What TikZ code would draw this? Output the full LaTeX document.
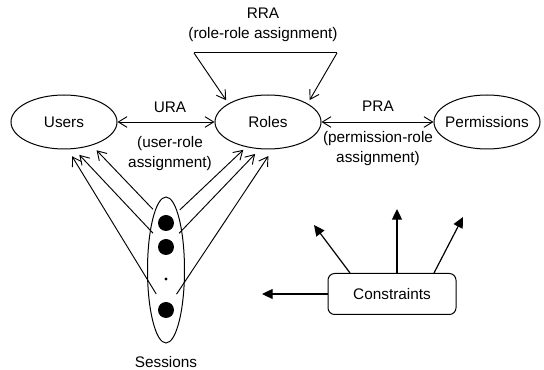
\documentclass[tikz,border=0pt]{standalone}
\usepackage{fontspec}
\setmainfont{Liberation Sans}
\usetikzlibrary{shapes.geometric,arrows.meta}

\begin{document}
\begin{tikzpicture}[x=0.75pt,y=0.75pt,yscale=-1,xscale=1,
  every node/.style={font=\fontsize{11.5}{15}\selectfont},
  entity/.style={draw,ellipse,line width=0.75pt,inner sep=0pt,inner xsep=-14pt,minimum width=79.5pt,minimum height=40.5pt},
  sdot/.style={circle,fill=black,inner sep=0pt,minimum size=12pt},
  barb/.style={line width=0.7pt,-{Straight Barb[length=6.5pt,width=8pt]}},
  tri/.style={line width=0.9pt,-{Triangle[length=8pt,width=7.5pt]}}
]
\useasboundingbox (0,0) rectangle (544,370);

\node[entity] (users) at (64,122) {Users};
\node[entity] (roles) at (268,122) {Roles};
\node[entity] (perms) at (487,122) {Permissions};

\node[draw,ellipse,line width=0.75pt,inner sep=0pt,minimum width=27.75pt,minimum height=109.5pt] (sessions) at (166,270) {};
\node[sdot] (s1) at (166,223) {};
\node[sdot] (s2) at (166,247) {};
\node[circle,fill=black,inner sep=0pt,minimum size=2.5pt] (s3) at (166,279) {};
\node[sdot] (s4) at (166,310) {};
\node (sesslabel) at (166,362) {Sessions};

\node[draw,rounded corners=5pt,line width=0.75pt,minimum width=96pt,minimum height=30.75pt] (con) at (392,294) {Constraints};

% assignments
\draw[barb,{Straight Barb[length=6.5pt,width=8pt]}-{Straight Barb[length=6.5pt,width=8pt]}] (users) -- (roles);
\draw[barb,{Straight Barb[length=6.5pt,width=8pt]}-{Straight Barb[length=6.5pt,width=8pt]}] (roles) -- (perms);
\node (ura) at (170,107) {URA};
\node[align=center] (uratext) at (170,154) {(user-role\\assignment)};
\node (pra) at (378,106) {PRA};
\node[align=center] (pratext) at (378,149) {(permission-role\\assignment)};

% role hierarchy
\node[align=center] (rra) at (263,25) {RRA\\(role-role assignment)};
\coordinate (rraleft) at (194,53);
\coordinate (rraright) at (337,53);
\draw[line width=0.75pt] (rraleft) -- (rraright);
\draw[barb,shorten >=3pt] (rraleft) -- (roles.155);
\draw[barb,shorten >=3pt] (rraright) -- (roles.25);

% sessions to users and roles
\draw[barb,shorten <=8pt,shorten >=5pt] (s1) -- (users.-40);
\draw[barb,shorten <=8pt,shorten >=6pt] (s2) -- (users.-70);
\draw[barb,shorten <=8pt,shorten >=6pt] (s4) -- (users.-82);
\draw[barb,shorten <=8pt,shorten >=3pt] (s1) -- (roles.-131);
\draw[barb,shorten <=8pt,shorten >=5pt] (s2) -- (roles.-107);
\draw[barb,shorten <=8pt,shorten >=6pt] (s4) -- (roles.-80);

% constraints
\coordinate (cleft) at (262,294);
\coordinate (cup1) at (314,225);
\coordinate (cup2) at (397,209);
\coordinate (cup3) at (463,217);
\draw[tri] (con.west) -- (con.west -| cleft);
\draw[tri] ([xshift=-31.5pt]con.north) -- (cup1);
\draw[tri] ([xshift=3.75pt]con.north) -- (cup2);
\draw[tri] ([xshift=31.5pt]con.north) -- (cup3);

\end{tikzpicture}
\end{document}
